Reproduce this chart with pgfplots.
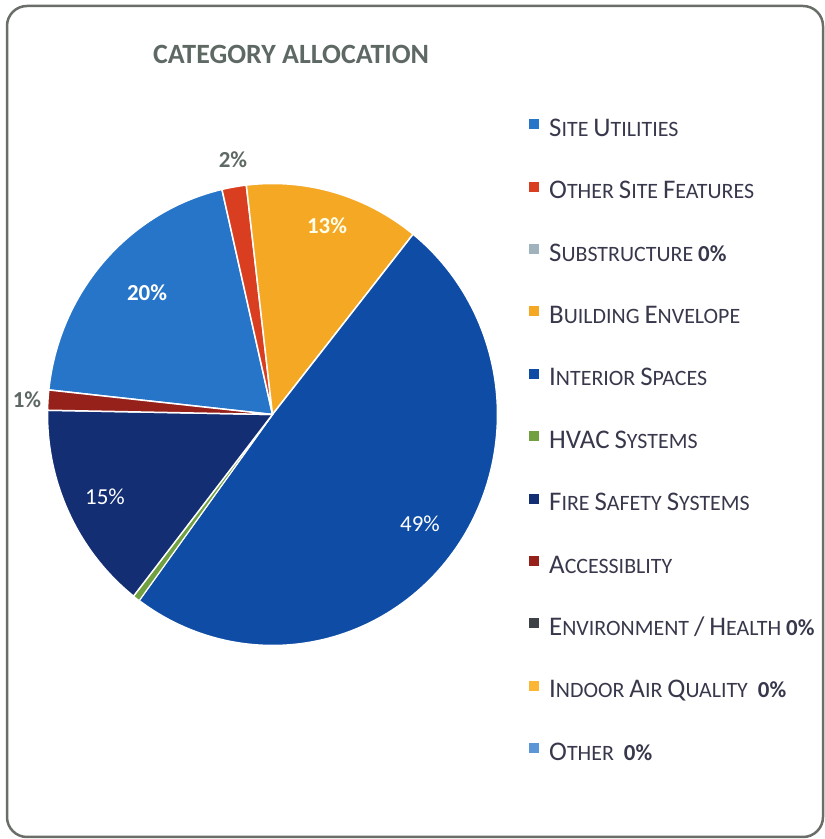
\documentclass[border=0pt]{standalone}
\usepackage{pgfplots}
\pgfplotsset{compat=1.18}
\usepackage{fontspec}
\setmainfont{Carlito}
\definecolor{cSite}{RGB}{38,117,200}
\definecolor{cOther}{RGB}{218,62,32}
\definecolor{cSub}{RGB}{160,178,188}
\definecolor{cEnv}{RGB}{244,168,36}
\definecolor{cInt}{RGB}{14,76,166}
\definecolor{cHVAC}{RGB}{112,160,64}
\definecolor{cFire}{RGB}{20,46,116}
\definecolor{cAcc}{RGB}{150,32,26}
\definecolor{cEH}{RGB}{62,66,70}
\definecolor{cIAQ}{RGB}{250,182,52}
\definecolor{cOth}{RGB}{92,150,215}
\definecolor{legtext}{RGB}{56,56,76}
\definecolor{titlecol}{RGB}{95,105,100}
\definecolor{framecol}{RGB}{105,110,105}
\newcommand\Lc[1]{{\fontsize{27}{27}\selectfont #1}}
\newcommand\Pz{{\bfseries\fontsize{23}{23}\selectfont 0\%}}
\begin{document}
\begin{tikzpicture}
\begin{axis}[
  x=1bp, y=1bp, anchor=south west, at={(0,0)},
  xmin=-272.5, xmax=552.5, ymin=-424.5, ymax=414.5,
  hide axis, clip=false,
  legend cell align=left,
  legend style={at={(axis cs:256.5,296.5)}, anchor=north west, draw=none, fill=none,
    inner sep=0pt, row sep=44.4bp, column sep=10bp,
    font=\fontsize{22}{22}\selectfont, text=legtext,
    nodes={inner sep=0pt, text height=18bp, text depth=0bp}},
  legend image code/.code={\path[#1,draw=none] (0bp,-2bp) rectangle (10bp,8bp);},
]
% percentages: Site 19.7, Other site 1.75, Envelope 12.6, Interior 49.35, HVAC 0.5, Fire 14.7, Accessibility 1.4
\addplot[fill=cSite, draw=white, line width=1.5bp, domain=102.98:173.9, samples=50] ({225*cos(x)},{231*sin(x)}) -- (axis cs:0,0) -- cycle;
\addlegendentry{\Lc{S}ITE \Lc{U}TILITIES}
\addplot[fill=cOther, draw=white, line width=1.5bp, domain=96.68:102.98, samples=8] ({225*cos(x)},{231*sin(x)}) -- (axis cs:0,0) -- cycle;
\addlegendentry{\Lc{O}THER \Lc{S}ITE \Lc{F}EATURES}
\addlegendimage{fill=cSub}
\addlegendentry{\Lc{S}UBSTRUCTURE \Pz}
\addplot[fill=cEnv, draw=white, line width=1.5bp, domain=51.32:96.68, samples=40] ({225*cos(x)},{231*sin(x)}) -- (axis cs:0,0) -- cycle;
\addlegendentry{\Lc{B}UILDING \Lc{E}NVELOPE}
\addplot[fill=cInt, draw=white, line width=1.5bp, domain=-126.34:51.32, samples=120] ({225*cos(x)},{231*sin(x)}) -- (axis cs:0,0) -- cycle;
\addlegendentry{\Lc{I}NTERIOR \Lc{S}PACES}
\addplot[fill=cHVAC, draw=white, line width=1bp, domain=-128.14:-126.34, samples=4] ({225*cos(x)},{231*sin(x)}) -- (axis cs:0,0) -- cycle;
\addlegendentry{\Lc{HVAC} \Lc{S}YSTEMS}
\addplot[fill=cFire, draw=white, line width=1.5bp, domain=-181.06:-128.14, samples=45] ({225*cos(x)},{231*sin(x)}) -- (axis cs:0,0) -- cycle;
\addlegendentry{\Lc{F}IRE \Lc{S}AFETY \Lc{S}YSTEMS}
\addplot[fill=cAcc, draw=white, line width=1.5bp, domain=-186.1:-181.06, samples=6] ({225*cos(x)},{231*sin(x)}) -- (axis cs:0,0) -- cycle;
\addlegendentry{\Lc{A}CCESSIBLITY}
\addlegendimage{fill=cEH}
\addlegendentry{\Lc{E}NVIRONMENT \Lc{/} \Lc{H}EALTH \Pz}
\addlegendimage{fill=cIAQ}
\addlegendentry{\Lc{I}NDOOR \Lc{A}IR \Lc{Q}UALITY\hspace{10bp}\Pz}
\addlegendimage{fill=cOth}
\addlegendentry{\Lc{O}THER\hspace{10bp}\Pz}
% labels
\node[text=white, font=\bfseries\fontsize{23}{23}\selectfont] at (axis cs:-125.5,121.5) {20\%};
\node[text=white!92!yellow, font=\bfseries\fontsize{23}{23}\selectfont] at (axis cs:54.5,188.5) {13\%};
\node[text=white, font=\fontsize{23}{23}\selectfont] at (axis cs:147.5,-109.5) {49\%};
\node[text=white, font=\fontsize{23}{23}\selectfont] at (axis cs:-167.5,-82.5) {15\%};
\node[text=titlecol, font=\bfseries\fontsize{23}{23}\selectfont] at (axis cs:-39.5,254.5) {2\%};
\node[text=titlecol, font=\bfseries\fontsize{23}{23}\selectfont] at (axis cs:-245.5,14.5) {1\%};
\node[text=titlecol, font=\bfseries\fontsize{28}{28}\selectfont] at (axis cs:18.5,360.5) {CATEGORY ALLOCATION};
\end{axis}
\draw[framecol, line width=2.5bp, rounded corners=20bp] (7bp,2bp) rectangle (823bp,833bp);
\pgfresetboundingbox
\path (0,0) rectangle (825bp,839bp);
\end{tikzpicture}
\end{document}
